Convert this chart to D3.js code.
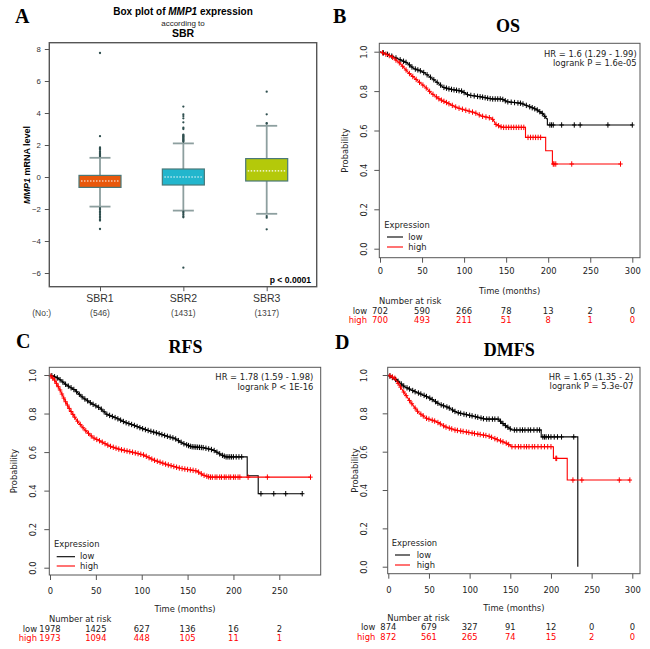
<!DOCTYPE html>
<html><head><meta charset="utf-8">
<script src="https://cdn.jsdelivr.net/npm/d3@7"></script>
<style>body{margin:0;background:#fff}svg{display:block}</style>
</head><body><svg id="c" width="650" height="649"></svg>
<script>
// ---------- Panel A: box plot data ----------
const boxCategories = ["SBR1", "SBR2", "SBR3"];
const boxCounts = ["(546)", "(1431)", "(1317)"];
const boxQ1 = [-0.65, -0.5, -0.25];
const boxMedian = [-0.25, 0.0, 0.38];
const boxQ3 = [0.1, 0.5, 1.15];
const boxWhiskerLow = [-1.85, -2.1, -2.3];
const boxWhiskerHigh = [1.2, 2.1, 3.2];
const outliersSBR1 = [7.75, 2.55, 1.85, 1.8, 1.75, 1.7, 1.6, 1.5, 1.45, 1.4, 1.35, 1.3,
  -1.95, -2.05, -2.15, -2.25, -2.35, -2.45, -2.55, -2.65, -2.72, -3.25];
const outliersSBR2 = [4.4, 3.92, 3.81, 3.67, 3.42, 3.08, 3.0, 2.65, 2.6, 2.55, 2.5, 2.45, 2.4, 2.35, 2.3, 2.25, 2.2,
  -2.17, -2.25, -2.35, -2.45, -2.52, -5.67];
const outliersSBR3 = [5.33, 3.92, 3.37, 3.33, -2.44, -2.54, -3.27];
const boxYTicks = [-6, -4, -2, 0, 2, 4, 6, 8];
const boxColors = ["#e8580c", "#22b6cd", "#b4c90a"];

// ---------- Panel B: OS ----------
const osLowTime = [0, 10, 18, 32, 40, 50, 57, 67, 75, 83, 97, 105, 121, 133, 145, 151, 168, 176, 186, 194, 198, 199, 199, 300];
const osLowSurv = [1.0, 0.985, 0.97, 0.944, 0.915, 0.90, 0.88, 0.848, 0.82, 0.81, 0.80, 0.78, 0.77, 0.76, 0.76, 0.746, 0.738, 0.724, 0.707, 0.684, 0.66, 0.66, 0.628, 0.628];
const osHighTime = [0, 14, 24, 34, 46, 54, 61, 71, 81, 91, 101, 113, 121, 133, 136, 137, 145, 173, 173, 197, 197, 205, 205, 286];
const osHighSurv = [1.0, 0.975, 0.94, 0.893, 0.848, 0.82, 0.79, 0.758, 0.738, 0.717, 0.704, 0.69, 0.673, 0.662, 0.645, 0.633, 0.616, 0.616, 0.565, 0.565, 0.497, 0.497, 0.43, 0.43];
const osLowCensor = [4, 9, 14, 19, 24, 28, 31, 35, 38, 42, 45, 48, 52, 56, 60, 64, 68, 72, 76, 79, 82, 85, 88, 91, 94, 97, 100, 104, 108, 112, 116, 119, 122, 125, 128, 131, 134, 137, 140, 143, 146, 149, 152, 156, 160, 164, 167, 170, 174, 178, 181, 184, 187, 190, 193, 196, 202, 204, 206, 216, 231, 238, 271, 300];
const osHighCensor = [3, 7, 11, 15, 19, 23, 27, 31, 35, 39, 43, 47, 51, 55, 59, 63, 67, 70, 73, 76, 79, 82, 86, 90, 94, 98, 102, 106, 110, 114, 118, 122, 126, 130, 134, 138, 141, 144, 147, 150, 153, 156, 159, 162, 165, 168, 171, 176, 179, 182, 185, 188, 191, 206, 207, 209, 228, 286];
const osXTicks = [0, 50, 100, 150, 200, 250, 300];
const osRiskLow = [702, 590, 266, 78, 13, 2, 0];
const osRiskHigh = [700, 493, 211, 51, 8, 1, 0];

// ---------- Panel C: RFS ----------
const rfsLowTime = [0, 9, 18, 27, 36, 45, 55, 62, 73, 82, 91, 100, 109, 118, 127, 136, 145, 154, 167, 178, 187, 192, 215, 215, 227, 227, 275];
const rfsLowSurv = [1.0, 0.983, 0.948, 0.922, 0.882, 0.853, 0.827, 0.796, 0.775, 0.754, 0.74, 0.723, 0.709, 0.697, 0.683, 0.671, 0.645, 0.628, 0.623, 0.611, 0.585, 0.575, 0.575, 0.477, 0.477, 0.384, 0.384];
const rfsHighTime = [0, 5, 11, 16, 22, 29, 38, 47, 56, 65, 76, 91, 102, 113, 127, 142, 160, 167, 174, 284];
const rfsHighSurv = [1.0, 0.974, 0.922, 0.87, 0.818, 0.766, 0.715, 0.675, 0.654, 0.631, 0.614, 0.598, 0.585, 0.559, 0.536, 0.516, 0.502, 0.481, 0.47, 0.47];
const rfsLowCensor = [2, 5, 8, 11, 14, 17, 20, 23, 26, 29, 32, 35, 38, 41, 44, 47, 50, 53, 56, 59, 62, 65, 68, 71, 74, 77, 80, 83, 86, 89, 92, 95, 98, 101, 104, 107, 110, 113, 116, 119, 122, 125, 128, 131, 134, 137, 140, 143, 146, 149, 151, 153, 155, 157, 159, 161, 163, 165, 167, 170, 173, 176, 179, 182, 185, 188, 190, 192, 194, 196, 198, 200, 203, 206, 209, 230, 244, 257, 275];
const rfsHighCensor = [1, 3, 5, 7, 9, 11, 13, 15, 17, 19, 21, 23, 25, 27, 30, 33, 36, 39, 42, 45, 48, 51, 54, 57, 60, 63, 66, 69, 72, 75, 78, 81, 84, 87, 90, 93, 96, 99, 102, 105, 108, 111, 114, 117, 120, 123, 126, 129, 132, 135, 138, 141, 144, 147, 150, 153, 156, 159, 162, 165, 168, 171, 173, 175, 177, 180, 182, 185, 187, 190, 192, 195, 197, 200, 202, 205, 207, 216, 237, 284];
const rfsXTicks = [0, 50, 100, 150, 200, 250];
const rfsRiskLow = [1978, 1425, 627, 136, 16, 2];
const rfsRiskHigh = [1973, 1094, 448, 105, 11, 1];

// ---------- Panel D: DMFS ----------
const dmfsLowTime = [0, 10, 20, 33, 45, 53, 63, 74, 84, 94, 107, 119, 135, 143, 152, 188, 188, 233, 233];
const dmfsLowSurv = [1.0, 0.974, 0.939, 0.913, 0.892, 0.875, 0.847, 0.83, 0.805, 0.795, 0.783, 0.77, 0.77, 0.739, 0.713, 0.713, 0.677, 0.677, 0.0];
const dmfsHighTime = [0, 8, 16, 27, 37, 47, 59, 70, 82, 94, 107, 123, 135, 146, 152, 203, 203, 220, 220, 297];
const dmfsHighSurv = [1.0, 0.983, 0.93, 0.861, 0.805, 0.774, 0.757, 0.73, 0.713, 0.704, 0.694, 0.682, 0.661, 0.643, 0.626, 0.626, 0.565, 0.565, 0.452, 0.452];
const dmfsLowCensor = [2, 5, 9, 12, 16, 19, 23, 26, 30, 33, 37, 40, 44, 47, 51, 54, 58, 61, 65, 68, 72, 75, 79, 82, 86, 89, 93, 96, 100, 103, 107, 110, 114, 117, 121, 124, 128, 131, 135, 138, 141, 144, 147, 150, 155, 158, 162, 165, 168, 172, 175, 179, 183, 186, 190, 192, 194, 197, 200, 204, 208, 213, 228];
const dmfsHighCensor = [2, 5, 8, 12, 15, 19, 22, 26, 29, 33, 36, 40, 43, 47, 50, 54, 57, 61, 64, 68, 71, 75, 78, 82, 85, 89, 92, 96, 99, 103, 106, 110, 113, 117, 120, 124, 127, 131, 134, 138, 141, 145, 148, 152, 156, 160, 163, 167, 170, 173, 177, 180, 184, 188, 192, 196, 200, 206, 207, 227, 238, 284, 297];
const dmfsXTicks = [0, 50, 100, 150, 200, 250, 300];
const dmfsRiskLow = [874, 679, 327, 91, 12, 0, 0];
const dmfsRiskHigh = [872, 561, 265, 74, 15, 2, 0];

const probTicks = [0, 0.2, 0.4, 0.6, 0.8, 1.0];

// ---------------------------------------------------------------
const svg = d3.select("#c");
const SANS = "'Liberation Sans', Arial, sans-serif";
const DJ = "'DejaVu Sans', sans-serif";
const SERIF = "'Liberation Serif', 'Times New Roman', serif";

function panelLetter(x, y, t) {
  svg.append("text").attr("x", x).attr("y", y).text(t)
    .attr("font-family", SERIF).attr("font-weight", "bold").attr("font-size", 20);
}

// ---------- Panel A ----------
(function () {
  const g = svg.append("g");
  const y = d3.scaleLinear().domain([-6, 8]).range([273, 49]);
  const x = d3.scalePoint().domain(boxCategories).range([100, 266.7]);
  const outs = [outliersSBR1, outliersSBR2, outliersSBR3];
  panelLetter(15, 22.7, "A");
  const t = g.append("text").attr("x", 183).attr("y", 15).attr("text-anchor", "middle")
    .attr("font-family", SANS).attr("font-weight", "bold").attr("font-size", 10);
  t.append("tspan").text("Box plot of ");
  t.append("tspan").attr("font-style", "italic").text("MMP1");
  t.append("tspan").text(" expression");
  g.append("text").attr("x", 183).attr("y", 25.5).attr("text-anchor", "middle")
    .attr("font-family", SANS).attr("font-size", 8).attr("fill", "#222").text("according to");
  g.append("text").attr("x", 183).attr("y", 36.5).attr("text-anchor", "middle")
    .attr("font-family", SANS).attr("font-weight", "bold").attr("font-size", 10.5).text("SBR");

  // y axis
  const ya = g.append("g").attr("transform", "translate(49.3,0)")
    .call(d3.axisLeft(y).tickValues(boxYTicks).tickSize(4.5).tickFormat(d3.format("d")));
  ya.select(".domain").remove();
  ya.selectAll("line").attr("stroke", "#555");
  ya.selectAll("text").attr("font-family", SANS).attr("font-size", 7.8).attr("fill", "#333").attr("x", -8.5);

  // x axis ticks
  const xa = g.append("g").attr("transform", "translate(0,286.7)")
    .call(d3.axisBottom(x).tickSize(4.5).tickFormat(""));
  xa.select(".domain").remove();
  xa.selectAll("line").attr("stroke", "#555");

  const yl = g.append("text").attr("transform", "translate(29.5,165) rotate(-90)")
    .attr("text-anchor", "middle").attr("font-family", SANS).attr("font-size", 9).attr("font-weight", "bold");
  yl.append("tspan").attr("font-style", "italic").text("MMP1");
  yl.append("tspan").text(" mRNA level");

  boxCategories.forEach((c, i) => {
    const cx = x(c), hw = 21, cw = 10.5;
    const wc = "#8d9f9f";
    g.append("line").attr("x1", cx).attr("x2", cx).attr("y1", y(boxWhiskerHigh[i])).attr("y2", y(boxQ3[i]))
      .attr("stroke", wc).attr("stroke-width", 1.8);
    g.append("line").attr("x1", cx).attr("x2", cx).attr("y1", y(boxQ1[i])).attr("y2", y(boxWhiskerLow[i]))
      .attr("stroke", wc).attr("stroke-width", 1.8);
    [boxWhiskerHigh[i], boxWhiskerLow[i]].forEach(v => {
      g.append("line").attr("x1", cx - cw).attr("x2", cx + cw).attr("y1", y(v)).attr("y2", y(v))
        .attr("stroke", wc).attr("stroke-width", 1.8);
    });
    g.append("rect").attr("x", cx - hw).attr("width", 2 * hw)
      .attr("y", y(boxQ3[i])).attr("height", y(boxQ1[i]) - y(boxQ3[i]))
      .attr("fill", boxColors[i]).attr("stroke", "#4a7878").attr("stroke-width", 1.2);
    g.append("line").attr("x1", cx - hw + 2).attr("x2", cx + hw - 2).attr("y1", y(boxMedian[i])).attr("y2", y(boxMedian[i]))
      .attr("stroke", "#fff").attr("stroke-width", 1.1).attr("stroke-dasharray", "1.5,1.5");
    outs[i].forEach(v => {
      g.append("circle").attr("cx", cx).attr("cy", y(v)).attr("r", 1.15).attr("fill", "#2f4f4f");
    });
    g.append("text").attr("x", cx).attr("y", 301.5).attr("text-anchor", "middle")
      .attr("font-family", SANS).attr("font-size", 10.5).attr("fill", "#333").text(c);
    g.append("text").attr("x", cx).attr("y", 315.5).attr("text-anchor", "middle")
      .attr("font-family", SANS).attr("font-size", 8.5).attr("fill", "#444").text(boxCounts[i]);
  });
  g.append("text").attr("x", 41.7).attr("y", 315.5).attr("text-anchor", "middle")
    .attr("font-family", SANS).attr("font-size", 8.5).attr("fill", "#444").text("(No:)");
  g.append("rect").attr("x", 49.3).attr("y", 42.7).attr("width", 267.4).attr("height", 244)
    .attr("fill", "none").attr("stroke", "#555").attr("stroke-width", 1.4);
  g.append("text").attr("x", 311).attr("y", 283.3).attr("text-anchor", "end")
    .attr("font-family", SANS).attr("font-weight", "bold").attr("font-size", 8.6).text("p < 0.0001");
})();

// ---------- KM panels ----------
function survAt(times, surv, t) {
  const i = d3.bisectRight(times, t) - 1;
  if (i < 0) return surv[0];
  if (i >= times.length - 1) return surv[times.length - 1];
  const t0 = times[i], t1 = times[i + 1];
  if (t1 === t0) return surv[i];
  return surv[i] + (surv[i + 1] - surv[i]) * (t - t0) / (t1 - t0);
}

function drawKM(cfg) {
  const g = svg.append("g");
  const x = d3.scaleLinear().domain([0, cfg.xMax]).range(cfg.xr);
  const y = d3.scaleLinear().domain([0, 1]).range(cfg.yr);
  const [fl, ft, fr, fb] = cfg.frame;
  const fs = 8.4;
  panelLetter(cfg.letter[0], cfg.letter[1], cfg.letter[2]);
  g.append("text").attr("x", cfg.title[0]).attr("y", cfg.title[1]).attr("text-anchor", "middle")
    .attr("font-family", SERIF).attr("font-weight", "bold").attr("font-size", 18).text(cfg.title[2]);

  // axes
  const xa = g.append("g").attr("transform", `translate(0,${fb})`)
    .call(d3.axisBottom(x).tickValues(cfg.xTicks).tickSize(5).tickPadding(7).tickFormat(d3.format("d")));
  xa.select(".domain").remove();
  xa.selectAll("line").attr("stroke", "#555");
  xa.selectAll("text").attr("font-family", DJ).attr("font-size", fs).attr("fill", "#222")
    .attr("y", cfg.xLabY - fb).attr("dy", 0);
  const ya = g.append("g").attr("transform", `translate(${fl},0)`)
    .call(d3.axisLeft(y).tickValues(probTicks).tickSize(5).tickFormat(d3.format(".1f")));
  ya.select(".domain").remove();
  ya.selectAll("line").attr("stroke", "#555");
  ya.selectAll("text").attr("font-family", DJ).attr("font-size", fs).attr("fill", "#222")
    .attr("x", null).attr("dy", null).attr("text-anchor", "middle")
    .attr("transform", `translate(${cfg.yLabX - fl},0) rotate(-90)`).attr("dy", "0.35em");
  g.append("text").attr("transform", `translate(${cfg.probX},${(ft + fb) / 2}) rotate(-90)`)
    .attr("dy", "0.35em").attr("text-anchor", "middle").attr("font-family", DJ).attr("font-size", fs)
    .attr("fill", "#222").text("Probability");
  g.append("text").attr("x", (fl + fr) / 2).attr("y", cfg.timeY).attr("text-anchor", "middle")
    .attr("font-family", DJ).attr("font-size", fs).attr("fill", "#222").text("Time (months)");

  // curves
  const line = d3.line().x(d => x(d[0])).y(d => y(d[1]));
  const series = [
    { t: cfg.lowT, s: cfg.lowS, c: cfg.lowC, col: "#000" },
    { t: cfg.highT, s: cfg.highS, c: cfg.highC, col: "#ff0000" }
  ];
  series.forEach(se => {
    g.append("path").attr("d", line(se.t.map((t, i) => [t, se.s[i]])))
      .attr("fill", "none").attr("stroke", se.col).attr("stroke-width", 1.1);
    se.c.forEach(ct => {
      const cx = x(ct), cy = y(survAt(se.t, se.s, ct));
      g.append("path").attr("d", `M${cx},${cy - 2.7}V${cy + 2.7}M${cx - 2.2},${cy}H${cx + 2.2}`)
        .attr("stroke", se.col).attr("stroke-width", 1);
    });
  });

  // frame
  g.append("rect").attr("x", fl).attr("y", ft).attr("width", fr - fl).attr("height", fb - ft)
    .attr("fill", "none").attr("stroke", "#555").attr("stroke-width", 1);

  // HR text
  g.append("text").attr("x", cfg.hr[0]).attr("y", cfg.hr[1]).attr("text-anchor", "end")
    .attr("font-family", DJ).attr("font-size", fs).attr("fill", "#222").text(cfg.hr[3]);
  g.append("text").attr("x", cfg.hr[0]).attr("y", cfg.hr[2]).attr("text-anchor", "end")
    .attr("font-family", DJ).attr("font-size", fs).attr("fill", "#222").text(cfg.hr[4]);

  // legend
  const L = cfg.legend;
  g.append("text").attr("x", L.ex).attr("y", L.ey).attr("font-family", DJ).attr("font-size", fs)
    .attr("fill", "#222").text("Expression");
  [["low", "#000", L.l1, L.t1], ["high", "#ff0000", L.l2, L.t2]].forEach(([lab, col, ly, ty]) => {
    g.append("line").attr("x1", L.x1).attr("x2", L.x2).attr("y1", ly).attr("y2", ly)
      .attr("stroke", col).attr("stroke-width", 1.1);
    g.append("text").attr("x", L.tx).attr("y", ty).attr("font-family", DJ).attr("font-size", fs)
      .attr("fill", "#222").text(lab);
  });

  // risk table
  g.append("text").attr("x", x(0) - 1).attr("y", cfg.nrY).attr("font-family", DJ).attr("font-size", fs)
    .attr("fill", "#222").text("Number at risk");
  [["low", "#222", cfg.riskLow, cfg.rowY[0]], ["high", "#ff0000", cfg.riskHigh, cfg.rowY[1]]].forEach(([lab, col, vals, ry]) => {
    g.append("text").attr("x", x(0) - 13).attr("y", ry).attr("text-anchor", "end")
      .attr("font-family", DJ).attr("font-size", fs).attr("fill", col).text(lab);
    vals.forEach((v, i) => {
      g.append("text").attr("x", x(cfg.xTicks[i])).attr("y", ry).attr("text-anchor", "middle")
        .attr("font-family", DJ).attr("font-size", fs).attr("fill", col).text(v);
    });
  });
}

drawKM({
  letter: [333, 22.7, "B"], title: [508, 31.5, "OS"],
  frame: [379.3, 43.3, 640, 257.7], xMax: 300, xr: [380, 632.3], yr: [248.7, 51.7],
  xTicks: osXTicks, xLabY: 274.5, yLabX: 364.3, probX: 345, timeY: 293.5,
  lowT: osLowTime, lowS: osLowSurv, lowC: osLowCensor,
  highT: osHighTime, highS: osHighSurv, highC: osHighCensor,
  hr: [636.7, 56.5, 66, "HR = 1.6 (1.29 - 1.99)", "logrank P = 1.6e-05"],
  legend: { ex: 384.3, ey: 227.7, x1: 387, x2: 403, l1: 237, l2: 247, tx: 408.3, t1: 240, t2: 249.5 },
  nrY: 303.5, rowY: [313.5, 323.3], riskLow: osRiskLow, riskHigh: osRiskHigh
});

drawKM({
  letter: [16, 348.3, "C"], title: [185.5, 353.3, "RFS"],
  frame: [49.3, 367.3, 320.7, 575], xMax: 250, xr: [50, 279.3], yr: [567.7, 375],
  xTicks: rfsXTicks, xLabY: 594.3, yLabX: 33.3, probX: 14, timeY: 612.3,
  lowT: rfsLowTime, lowS: rfsLowSurv, lowC: rfsLowCensor,
  highT: rfsHighTime, highS: rfsHighSurv, highC: rfsHighCensor,
  hr: [313.3, 380.3, 389.7, "HR = 1.78 (1.59 - 1.98)", "logrank P < 1E-16"],
  legend: { ex: 54, ey: 546.7, x1: 56.7, x2: 75, l1: 556.7, l2: 566, tx: 80, t1: 559.3, t2: 568.7 },
  nrY: 621.5, rowY: [631.5, 641], riskLow: rfsRiskLow, riskHigh: rfsRiskHigh
});

drawKM({
  letter: [335, 349, "D"], title: [509.3, 355.5, "DMFS"],
  frame: [387.7, 367.3, 640, 573.7], xMax: 300, xr: [388.3, 632.3], yr: [566.7, 375],
  xTicks: dmfsXTicks, xLabY: 593.3, yLabX: 364.3, probX: 355, timeY: 610.7,
  lowT: dmfsLowTime, lowS: dmfsLowSurv, lowC: dmfsLowCensor,
  highT: dmfsHighTime, highS: dmfsHighSurv, highC: dmfsHighCensor,
  hr: [633.3, 380, 389.3, "HR = 1.65 (1.35 - 2)", "logrank P = 5.3e-07"],
  legend: { ex: 391.7, ey: 545.7, x1: 395, x2: 410, l1: 555, l2: 565, tx: 416.7, t1: 557.6, t2: 567.5 },
  nrY: 620.5, rowY: [630, 640], riskLow: dmfsRiskLow, riskHigh: dmfsRiskHigh
});
</script>
</body></html>
